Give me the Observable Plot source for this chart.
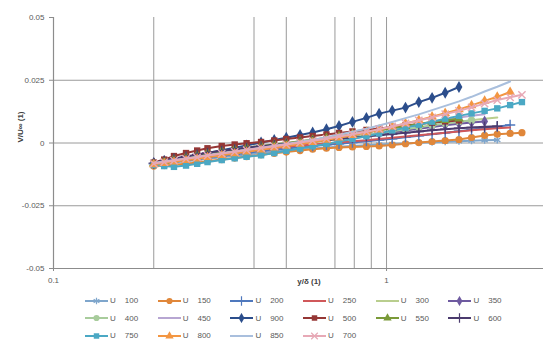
<!DOCTYPE html>
<html>
<head>
<meta charset="utf-8">
<script src="https://cdn.jsdelivr.net/npm/d3@7"></script>
<script src="https://cdn.jsdelivr.net/npm/@observablehq/plot@0.6"></script>
<style>
  html, body { margin: 0; padding: 0; background: #fff; }
  #wrap { position: relative; width: 543px; height: 358px; font-family: "Liberation Sans", Arial, sans-serif; overflow: hidden; }
  #chart svg { display: block; }
  .ttl { position: absolute; font-size: 8px; font-weight: bold; color: #404040; white-space: nowrap; }
  #ytitle { left: 20px; top: 127px; transform: translate(-50%, -50%) rotate(-90deg); }
  #xtitle { left: 309px; top: 281px; transform: translate(-50%, -50%); }
  #legend { position: absolute; left: 85px; top: 292px; width: 450px; }
  .row { height: 17.5px; display: flex; align-items: center; }
  .item { width: 72.7px; display: flex; align-items: center; font-size: 8px; color: #595959; }
  .item svg { display: block; margin-right: 2px; }
  .item .u { margin-right: 9px; }
</style>
</head>
<body>
<div id="wrap">
  <div id="chart"></div>
  <div id="ytitle" class="ttl">V/U∞ (1)</div>
  <div id="xtitle" class="ttl">y/δ (1)</div>
  <div id="legend"></div>
</div>
<script>
// ---- data ----
const xs = [0.2, 0.215, 0.23, 0.25, 0.27, 0.29, 0.32, 0.35, 0.38, 0.42, 0.46, 0.5, 0.55, 0.6, 0.66, 0.72, 0.79, 0.87, 0.95, 1.04, 1.14, 1.25, 1.37, 1.5, 1.65, 1.8, 1.97, 2.15, 2.35, 2.55];

const names = ["U 100", "U 150", "U 200", "U 250", "U 300", "U 350", "U 400", "U 450", "U 900", "U 500", "U 550", "U 600", "U 750", "U 800", "U 850", "U 700"];
const colors = ["#7FA6CC", "#E0873A", "#4F78BD", "#D0585A", "#B9CE8E", "#6E5AA0", "#A8CC9C", "#B7A6D2", "#2C4E8C", "#953735", "#7A9A38", "#4B3B6E", "#4BA8C4", "#F39642", "#A9BFDD", "#E7A9B6"];
const markers = ["asterisk", "circle", "plus", null, null, "diamond", "circle", null, "diamond", "square", "triangle", "plus", "square", "triangle", null, "times"];

const yU100 = [-0.0086,-0.0082,-0.0078,-0.0073,-0.0068,-0.0063,-0.0057,-0.0051,-0.0046,-0.0040,-0.0035,-0.0030,-0.0026,-0.0022,-0.0018,-0.0015,-0.0012,-0.0009,-0.0006,-0.0004,-0.0002,0.0001,0.0003,0.0005,0.0007,0.0009,0.0011,0.0012];
const yU150 = [-0.0092,-0.0090,-0.0087,-0.0083,-0.0078,-0.0073,-0.0066,-0.0060,-0.0054,-0.0047,-0.0041,-0.0036,-0.0030,-0.0025,-0.0021,-0.0018,-0.0016,-0.0014,-0.0012,-0.0008,-0.0003,0.0002,0.0006,0.0010,0.0014,0.0022,0.0030,0.0035,0.0038,0.0041];
const yU200 = [-0.0083,-0.0079,-0.0074,-0.0069,-0.0063,-0.0058,-0.0051,-0.0045,-0.0039,-0.0033,-0.0027,-0.0022,-0.0017,-0.0012,-0.0007,-0.0003,0.0002,0.0007,0.0012,0.0017,0.0023,0.0029,0.0035,0.0041,0.0047,0.0053,0.0059,0.0065,0.0072];
const yU250 = [-0.0081,-0.0075,-0.0069,-0.0063,-0.0056,-0.0050,-0.0043,-0.0037,-0.0031,-0.0025,-0.0020,-0.0015,-0.0010,-0.0006,-0.0002,0.0002,0.0007,0.0011,0.0016,0.0021,0.0026,0.0031,0.0036,0.0041,0.0046,0.0051,0.0055,0.0059,0.0062];
const yU300 = [-0.0080,-0.0073,-0.0066,-0.0059,-0.0052,-0.0046,-0.0039,-0.0032,-0.0026,-0.0019,-0.0013,-0.0008,-0.0002,0.0004,0.0010,0.0016,0.0023,0.0030,0.0037,0.0044,0.0052,0.0060,0.0068,0.0076,0.0084,0.0091,0.0097,0.0102];
const yU350 = [-0.0079,-0.0072,-0.0064,-0.0057,-0.0050,-0.0043,-0.0035,-0.0028,-0.0022,-0.0015,-0.0009,-0.0004,0.0002,0.0007,0.0013,0.0019,0.0025,0.0031,0.0037,0.0043,0.0050,0.0057,0.0064,0.0071,0.0077,0.0082,0.0086];
const yU400 = [-0.0082,-0.0075,-0.0068,-0.0061,-0.0054,-0.0047,-0.0040,-0.0033,-0.0027,-0.0020,-0.0014,-0.0008,-0.0002,0.0004,0.0010,0.0017,0.0024,0.0031,0.0039,0.0047,0.0055,0.0063,0.0071,0.0078,0.0085,0.0091];
const yU450 = [-0.0080,-0.0072,-0.0064,-0.0056,-0.0048,-0.0041,-0.0033,-0.0026,-0.0020,-0.0013,-0.0007,-0.0001,0.0006,0.0012,0.0019,0.0026,0.0034,0.0042,0.0050,0.0058,0.0067,0.0076,0.0085,0.0094,0.0102,0.0109,0.0115];
const yU900 = [-0.0080,-0.0072,-0.0065,-0.0057,-0.0048,-0.0040,-0.0029,-0.0019,-0.0010,0.0002,0.0012,0.0021,0.0032,0.0042,0.0055,0.0068,0.0084,0.0100,0.0117,0.0129,0.0141,0.0163,0.0180,0.0200,0.0223];
const yU500 = [-0.0078,-0.0066,-0.0052,-0.0040,-0.0030,-0.0021,-0.0012,-0.0006,-0.0001,0.0004,0.0010,0.0016,0.0022,0.0028,0.0034,0.0040,0.0046,0.0052,0.0058,0.0064,0.0070,0.0076,0.0081,0.0086,0.0090];
const yU550 = [-0.0081,-0.0073,-0.0064,-0.0056,-0.0048,-0.0040,-0.0032,-0.0025,-0.0019,-0.0012,-0.0006,0.0000,0.0007,0.0013,0.0020,0.0027,0.0035,0.0043,0.0051,0.0059,0.0067,0.0076,0.0084,0.0091,0.0097];
const yU600 = [-0.0080,-0.0071,-0.0062,-0.0054,-0.0046,-0.0039,-0.0031,-0.0025,-0.0019,-0.0013,-0.0008,-0.0003,0.0002,0.0007,0.0012,0.0016,0.0021,0.0026,0.0031,0.0036,0.0041,0.0046,0.0051,0.0055,0.0059,0.0062,0.0065,0.0067];
const yU750 = [-0.0088,-0.0092,-0.0095,-0.0090,-0.0083,-0.0076,-0.0068,-0.0061,-0.0055,-0.0049,-0.0040,-0.0031,-0.0022,-0.0013,-0.0004,0.0006,0.0016,0.0027,0.0038,0.0050,0.0061,0.0073,0.0085,0.0097,0.0108,0.0118,0.0128,0.0138,0.0151,0.0163];
const yU800 = [-0.0085,-0.0080,-0.0075,-0.0069,-0.0063,-0.0057,-0.0049,-0.0042,-0.0035,-0.0027,-0.0019,-0.0012,-0.0004,0.0003,0.0012,0.0021,0.0031,0.0042,0.0053,0.0065,0.0078,0.0091,0.0105,0.0119,0.0134,0.0150,0.0168,0.0184,0.0203];
const yU850 = [-0.0079,-0.0074,-0.0068,-0.0062,-0.0055,-0.0049,-0.0041,-0.0034,-0.0027,-0.0019,-0.0011,-0.0004,0.0005,0.0013,0.0023,0.0033,0.0045,0.0057,0.0070,0.0084,0.0099,0.0114,0.0131,0.0148,0.0166,0.0184,0.0205,0.0224,0.0245];
const yU700 = [-0.0082,-0.0076,-0.0070,-0.0063,-0.0057,-0.0050,-0.0042,-0.0035,-0.0028,-0.0020,-0.0013,-0.0006,0.0002,0.0009,0.0017,0.0026,0.0035,0.0045,0.0055,0.0066,0.0078,0.0090,0.0102,0.0115,0.0128,0.0142,0.0157,0.0171,0.0182,0.0192];

const seriesY = [yU100, yU150, yU200, yU250, yU300, yU350, yU400, yU450, yU900, yU500, yU550, yU600, yU750, yU800, yU850, yU700];

const yTicks = [-0.05, -0.025, 0, 0.025, 0.05];
const yTickLabels = ["-0.05", "-0.025", "0", "0.025", "0.05"];
const xTicks = [0.1, 1];
const xTickLabels = ["0.1", "1"];
const xGrid = [0.2, 0.4, 0.5, 0.7, 0.8, 0.9, 1];
const yGrid = [-0.025, 0, 0.025];

// ---- chart ----
const strokeSymbols = new Set(["asterisk", "plus", "times"]);
const marks = [
  Plot.ruleY(yGrid, {stroke: "#9a9a9a", strokeWidth: 1}),
  Plot.ruleX(xGrid, {stroke: "#9a9a9a", strokeWidth: 1}),
  Plot.ruleX([0.1], {stroke: "#8c8c8c", strokeWidth: 1.2}),
  Plot.ruleY([-0.05], {stroke: "#8c8c8c", strokeWidth: 1.2}),
  Plot.axisY({ticks: yTicks, tickFormat: (d) => yTickLabels[yTicks.indexOf(d)], tickSize: 4, tickPadding: 5, stroke: "#8c8c8c", fill: "#595959", fontSize: 8, label: null}),
  Plot.axisX({ticks: xTicks, tickFormat: (d) => xTickLabels[xTicks.indexOf(d)], tickSize: 3, tickPadding: 6, stroke: "#8c8c8c", fill: "#595959", fontSize: 8, label: null})
];
names.forEach((name, k) => {
  const rows = seriesY[k].map((y, i) => ({x: xs[i], y}));
  marks.push(Plot.line(rows, {x: "x", y: "y", stroke: colors[k], strokeWidth: 2}));
  const m = markers[k];
  if (m) {
    if (strokeSymbols.has(m)) {
      marks.push(Plot.dot(rows, {x: "x", y: "y", symbol: m, stroke: colors[k], strokeWidth: 1.4, r: 3.4}));
    } else {
      marks.push(Plot.dot(rows, {x: "x", y: "y", symbol: m, fill: colors[k], r: 3.6}));
    }
  }
});

const chart = Plot.plot({
  width: 543,
  height: 292,
  marginTop: 17,
  marginBottom: 24,
  marginLeft: 53,
  marginRight: 0,
  style: {fontFamily: "Liberation Sans, Arial, sans-serif", fontSize: "8px", background: "#fff"},
  x: {type: "log", domain: [0.1, 2.96]},
  y: {domain: [-0.05, 0.05]},
  marks
});
document.getElementById("chart").appendChild(chart);

// ---- legend ----
const legend = document.getElementById("legend");
const perRow = 6;
const symGen = {
  circle: d3.symbolCircle, diamond: d3.symbolDiamond, square: d3.symbolSquare, triangle: d3.symbolTriangle,
  asterisk: d3.symbolAsterisk, plus: d3.symbolPlus, times: d3.symbolTimes
};
let row;
names.forEach((name, k) => {
  if (k % perRow === 0) { row = document.createElement("div"); row.className = "row"; legend.appendChild(row); }
  const item = document.createElement("div");
  item.className = "item";
  const svg = d3.create("svg").attr("width", 23).attr("height", 10);
  svg.append("line").attr("x1", 0).attr("x2", 23).attr("y1", 5).attr("y2", 5).attr("stroke", colors[k]).attr("stroke-width", 2);
  const m = markers[k];
  if (m) {
    const p = svg.append("path").attr("transform", "translate(11.5,5)").attr("d", d3.symbol(symGen[m], 30)());
    if (strokeSymbols.has(m)) p.attr("fill", "none").attr("stroke", colors[k]).attr("stroke-width", 1.2);
    else p.attr("fill", colors[k]);
  }
  item.appendChild(svg.node());
  const parts = name.split(" ");
  const u = document.createElement("span"); u.className = "u"; u.textContent = parts[0];
  const n = document.createElement("span"); n.textContent = parts[1];
  item.appendChild(u); item.appendChild(n);
  row.appendChild(item);
});
</script>
</body>
</html>
